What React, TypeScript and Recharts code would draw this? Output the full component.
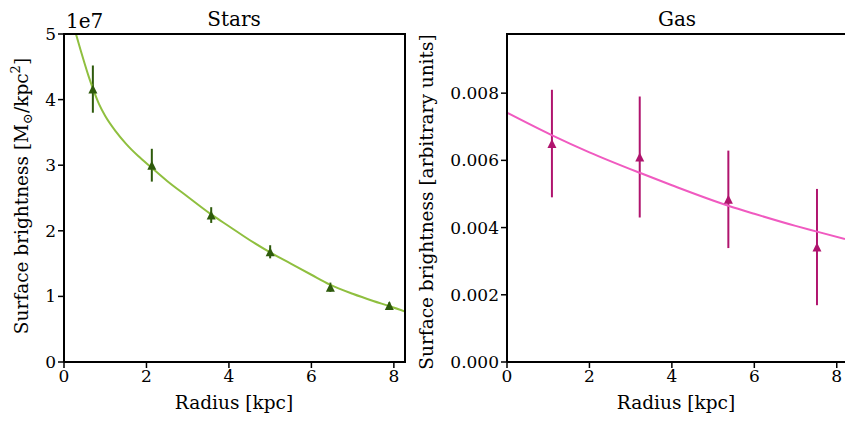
import { ComposedChart, Line, Scatter, ErrorBar, XAxis, YAxis } from "recharts";

// stars (values in units of 1e7 Msun/kpc^2)
const starRadius = [0.7, 2.13, 3.57, 5.0, 6.46, 7.89];
const starDensity = [4.16, 3.0, 2.24, 1.68, 1.14, 0.86];
const starError = [0.36, 0.25, 0.12, 0.1, 0.07, 0.05];

const starFitRadius = [0.29, 0.4, 0.5, 0.6, 0.7, 0.85, 1.0, 1.25, 1.5, 1.8, 2.13, 2.5, 3.0, 3.57, 4.0, 4.5, 5.0, 5.5, 6.0, 6.45, 7.0, 7.5, 7.9, 8.27];
const starFitDensity = [5.0, 4.76, 4.55, 4.35, 4.17, 3.93, 3.75, 3.52, 3.33, 3.14, 2.96, 2.76, 2.52, 2.25, 2.07, 1.86, 1.67, 1.5, 1.33, 1.18, 1.04, 0.93, 0.85, 0.77];

// gas (arbitrary units)
const gasRadius = [1.09, 3.22, 5.37, 7.52];
const gasDensity = [0.0065, 0.0061, 0.00484, 0.00342];
const gasError = [0.0016, 0.0018, 0.00145, 0.00173];

const gasFitRadius = [0, 1.07, 2, 3.22, 4, 5.37, 6, 7, 7.52, 8.2];
const gasFitDensity = [0.00742, 0.00676, 0.00624, 0.00563, 0.00526, 0.00465, 0.00441, 0.00405, 0.00388, 0.00366];

const xTicks = [0, 2, 4, 6, 8];
const starTicks = [0, 1, 2, 3, 4, 5];
const gasTicks = [0, 0.002, 0.004, 0.006, 0.008];

const FONT = "'DejaVu Serif', serif";
const tickStyle = { fontFamily: FONT, fontSize: 17, fill: "#000" };

const starPoints = starRadius.map((r, i) => ({ r, v: starDensity[i], err: starError[i] }));
const starFit = starFitRadius.map((r, i) => ({ r, v: starFitDensity[i] }));
const gasPoints = gasRadius.map((r, i) => ({ r, v: gasDensity[i], err: gasError[i] }));
const gasFit = gasFitRadius.map((r, i) => ({ r, v: gasFitDensity[i] }));

function triangle(color: string) {
  return (props: any) => {
    const { cx, cy } = props;
    const s = 4.5;
    return <path d={`M${cx},${cy - s}L${cx + s},${cy + s}L${cx - s},${cy + s}Z`} fill={color} />;
  };
}

const axisProps = {
  tick: tickStyle,
  tickSize: 6,
  tickMargin: 2,
  axisLine: { stroke: "#000", strokeWidth: 2 },
  tickLine: { stroke: "#000", strokeWidth: 1.5 },
};

export default function App() {
  return (
    <div style={{ position: "absolute", left: 0, top: 0, width: 845, height: 422, overflow: "hidden", background: "#fff" }}>
      <div style={{ position: "absolute", left: 0, top: 0 }}>
        <ComposedChart width={420} height={422} margin={{ top: 34, right: 15, bottom: 0, left: 0 }}>
          <XAxis dataKey="r" type="number" domain={[0, 8.27]} ticks={xTicks} allowDataOverflow height={60} {...axisProps} />
          <YAxis dataKey="v" type="number" domain={[0, 5]} ticks={starTicks} allowDataOverflow width={64} {...axisProps} />
          <Scatter data={starPoints} dataKey="v" shape={triangle("#2e5a0c")} isAnimationActive={false}>
            <ErrorBar dataKey="err" direction="y" width={0} stroke="#2e5a0c" strokeWidth={2} isAnimationActive={false} />
          </Scatter>
          <Line data={starFit} dataKey="v" type="monotone" stroke="#8fbf3f" strokeWidth={2} dot={false} activeDot={false} isAnimationActive={false} />
        </ComposedChart>
      </div>
      <div style={{ position: "absolute", left: 420, top: 0 }}>
        <ComposedChart width={425} height={422} margin={{ top: 34, right: 0, bottom: 0, left: 0 }}>
          <XAxis dataKey="r" type="number" domain={[0, 8.2]} ticks={xTicks} allowDataOverflow height={60} {...axisProps} />
          <YAxis
            dataKey="v"
            type="number"
            domain={[0, 0.00976]}
            ticks={gasTicks}
            allowDataOverflow
            width={87}
            tickFormatter={(v: number) => v.toFixed(3)}
            {...axisProps}
          />
          <Scatter data={gasPoints} dataKey="v" shape={triangle("#b0146e")} isAnimationActive={false}>
            <ErrorBar dataKey="err" direction="y" width={0} stroke="#b0146e" strokeWidth={2} isAnimationActive={false} />
          </Scatter>
          <Line data={gasFit} dataKey="v" type="monotone" stroke="#f05ac0" strokeWidth={2} dot={false} activeDot={false} isAnimationActive={false} />
        </ComposedChart>
      </div>
      <svg width={845} height={422} style={{ position: "absolute", left: 0, top: 0, pointerEvents: "none" }} fontFamily={FONT}>
        {/* remaining spines */}
        <line x1={63} y1={34} x2={406} y2={34} stroke="#000" strokeWidth={2} />
        <line x1={405} y1={33} x2={405} y2={363} stroke="#000" strokeWidth={2} />
        <line x1={506} y1={34} x2={845} y2={34} stroke="#000" strokeWidth={2} />

        <text x={234} y={26} fontSize={20} textAnchor="middle">Stars</text>
        <text x={677} y={26} fontSize={20} textAnchor="middle">Gas</text>
        <text x={66} y={28} fontSize={20}>1e7</text>

        <text x={234} y={409} fontSize={18.5} textAnchor="middle">Radius [kpc]</text>
        <text x={676} y={409} fontSize={18.5} textAnchor="middle">Radius [kpc]</text>

        <text transform="translate(28,196) rotate(-90)" fontSize={18.5} textAnchor="middle">
          Surface brightness [M
          <tspan fontSize={13} dy={4}>⊙</tspan>
          <tspan dy={-4}>/kpc</tspan>
          <tspan fontSize={13} dy={-8}>2</tspan>
          <tspan dy={8}>]</tspan>
        </text>
        <text transform="translate(433,202) rotate(-90)" fontSize={18.5} textAnchor="middle">
          Surface brightness [arbitrary units]
        </text>
      </svg>
    </div>
  );
}
